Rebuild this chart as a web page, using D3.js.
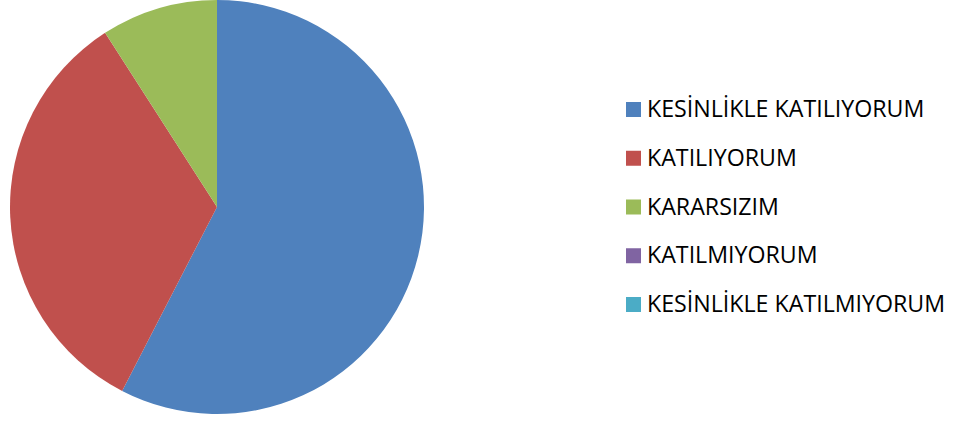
<!DOCTYPE html>
<html>
<head>
<meta charset="utf-8">
<script src="https://cdn.jsdelivr.net/npm/d3@7"></script>
<style>
  html, body { margin: 0; padding: 0; background: #fff; }
  svg { display: block; }
</style>
</head>
<body>
<svg id="chart" width="955" height="421"></svg>
<script>
// Survey responses
const categories = ["KESİNLİKLE KATILIYORUM", "KATILIYORUM", "KARARSIZIM", "KATILMIYORUM", "KESİNLİKLE KATILMIYORUM"];
const values = [19, 11, 3, 0, 0];
const colors = ["#4F81BD", "#C0504D", "#9BBB59", "#8064A2", "#4BACC6"];

const svg = d3.select("#chart");
const cx = 217, cy = 207, radius = 207;

const pie = d3.pie().sort(null).value(d => d.value);
const arc = d3.arc().innerRadius(0).outerRadius(radius);
const data = categories.map((c, i) => ({ name: c, value: values[i], color: colors[i] }));

svg.append("g")
  .attr("transform", `translate(${cx},${cy})`)
  .selectAll("path")
  .data(pie(data))
  .join("path")
  .attr("d", arc)
  .attr("fill", d => d.data.color);

// Legend
const legend = svg.append("g").attr("transform", "translate(626,109.5)");
const rowStep = 48.75;
const rows = legend.selectAll("g")
  .data(data)
  .join("g")
  .attr("transform", (d, i) => `translate(0,${i * rowStep})`);

rows.append("rect")
  .attr("x", 0).attr("y", -7.5)
  .attr("width", 15).attr("height", 15)
  .attr("fill", d => d.color);

rows.append("text")
  .attr("x", 21)
  .attr("y", 7.5)
  .attr("font-family", "'Open Sans', sans-serif")
  .attr("font-size", 23.2)
  .attr("fill", "#000")
  .text(d => d.name);
</script>
</body>
</html>
